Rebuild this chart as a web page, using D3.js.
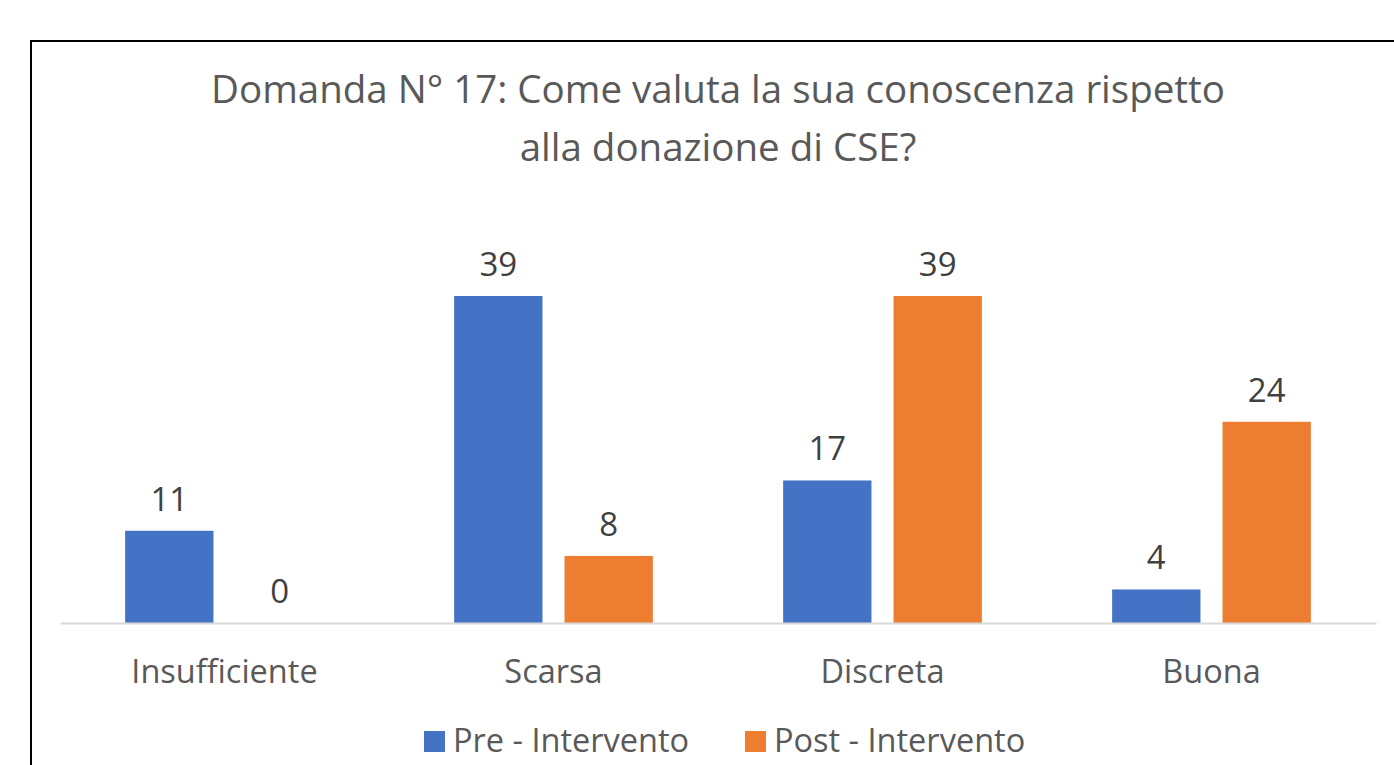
<!DOCTYPE html>
<html>
<head>
<meta charset="utf-8">
<script src="https://cdn.jsdelivr.net/npm/d3@7"></script>
<style>
  body { margin: 0; background: #fff; }
  text { font-family: "Open Sans", sans-serif; }
</style>
</head>
<body>
<div id="chart"></div>
<script>
const categories = ["Insufficiente", "Scarsa", "Discreta", "Buona"]
const series_names = ["Pre - Intervento", "Post - Intervento"]
const pre_values = [11, 39, 17, 4]
const post_values = [0, 8, 39, 24]
const title_lines = ["Domanda N° 17: Come valuta la sua conoscenza rispetto", "alla donazione di CSE?"]
const colors = ["#4472C4", "#ED7D31"]

const W = 1394, H = 765
const margin = {top: 296, right: 18, bottom: 142, left: 60}
const width = W - margin.left - margin.right
const height = H - margin.top - margin.bottom

const svg = d3.select("#chart").append("svg")
    .attr("width", W)
    .attr("height", H)

// outer frame (runs off the right and bottom edge)
svg.append("rect")
    .attr("x", 31).attr("y", 41)
    .attr("width", W + 20).attr("height", H + 20)
    .attr("fill", "none")
    .attr("stroke", "#000")
    .attr("stroke-width", 2)

svg.selectAll(".title")
    .data(title_lines)
    .enter()
    .append("text")
    .attr("class", "title")
    .attr("x", 718)
    .attr("y", (d, i) => 103 + i * 58)
    .attr("text-anchor", "middle")
    .attr("fill", "#595959")
    .style("font-size", "38.5px")
    .text(d => d)

const g = svg.append("g")
    .attr("transform", "translate(" + margin.left + "," + margin.top + ")")

const x = d3.scaleBand()
    .domain(categories)
    .range([0, width])
    .paddingInner(0)
    .paddingOuter(0)

const x_inner = d3.scaleBand()
    .domain(series_names)
    .range([x.bandwidth() * 0.198, x.bandwidth() * 0.802])
    .paddingInner(0.2)

const y = d3.scaleLinear()
    .domain([0, 39])
    .range([height, 0])

const data = categories.map((c, i) => ({cat: c, values: [pre_values[i], post_values[i]]}))

const groups = g.selectAll(".group")
    .data(data)
    .enter()
    .append("g")
    .attr("transform", d => "translate(" + x(d.cat) + ",0)")

groups.selectAll("rect")
    .data(d => d.values.map((v, k) => ({name: series_names[k], value: v, k: k})))
    .enter()
    .append("rect")
    .attr("x", d => x_inner(d.name))
    .attr("y", d => y(d.value))
    .attr("width", x_inner.bandwidth())
    .attr("height", d => height - y(d.value))
    .attr("fill", d => colors[d.k])

groups.selectAll(".val")
    .data(d => d.values.map((v, k) => ({name: series_names[k], value: v, k: k})))
    .enter()
    .append("text")
    .attr("class", "val")
    .attr("x", d => x_inner(d.name) + x_inner.bandwidth() / 2)
    .attr("y", d => y(d.value) - 20)
    .attr("text-anchor", "middle")
    .attr("fill", "#404040")
    .style("font-size", "33px")
    .text(d => d.value)

// baseline axis
g.append("g")
    .attr("transform", "translate(0," + height + ")")
    .call(d3.axisBottom(x).tickSize(0).tickPadding(37))
    .call(a => a.select(".domain").attr("stroke", "#D9D9D9").attr("stroke-width", 2))
    .call(a => a.selectAll(".tick text")
        .attr("fill", "#595959")
        .style("font-size", "32.5px")
        .style("font-family", "'Open Sans', sans-serif"))

// legend
const legend = svg.append("g").attr("transform", "translate(424,731)")
const legend_x = [0, 321]
series_names.forEach((s, i) => {
    const item = legend.append("g").attr("transform", "translate(" + legend_x[i] + ",0)")
    item.append("rect")
        .attr("width", 21).attr("height", 21)
        .attr("fill", colors[i])
    item.append("text")
        .attr("x", 29)
        .attr("y", 21)
        .attr("fill", "#595959")
        .style("font-size", "32.5px")
        .text(s)
})
</script>
</body>
</html>
